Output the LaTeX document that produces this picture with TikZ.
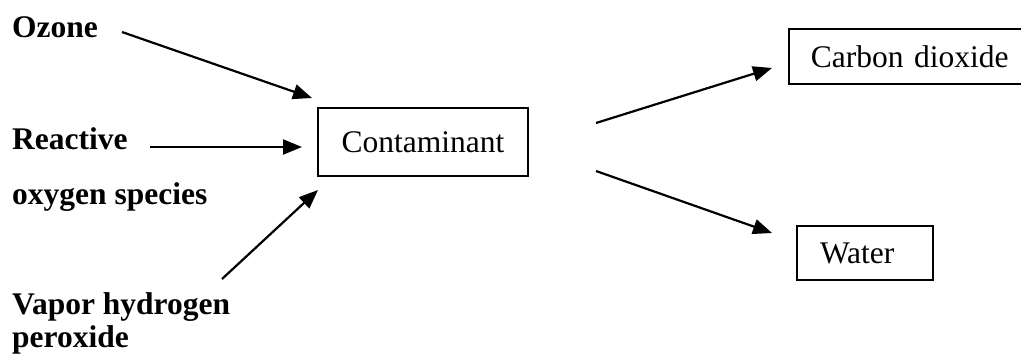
\documentclass[tikz,border=0pt]{standalone}
\usepackage{fontspec}
\setmainfont{Liberation Serif}
\usetikzlibrary{arrows.meta}
\begin{document}
\begin{tikzpicture}[x=1pt,y=-1pt,
  lbl/.style={font=\fontsize{31.5}{32.5}\selectfont\bfseries, inner sep=0pt, anchor=base west, align=left},
  box/.style={draw, line width=1.8pt, font=\fontsize{31.5}{32.5}\selectfont, inner sep=0pt},
  arr/.style={line width=2.2pt, -{Triangle[length=19pt,width=15pt]}}]
\useasboundingbox (0,0) rectangle (1021,354);
% labels (base anchor = baseline of the last line)
\node[lbl] (ozone) at (12,37) {Ozone};
\node[lbl] (ros) at (12,204) {Reactive\\[22pt]oxygen species};
\node[lbl] (vhp) at (12,347) {Vapor hydrogen\\peroxide};
% boxes
\node[box, minimum width=210pt, minimum height=68pt] (cont) at (423,142) {Contaminant};
\node[box, anchor=west, minimum width=250pt, minimum height=55pt, text width=206pt, align=left, inner xsep=22pt] (co2) at (788,56.5) {Carbon dioxide};
\node[box, line width=1.5pt, minimum width=136pt, minimum height=54pt, text width=90pt, align=left, inner xsep=23pt] (water) at (865,253) {Water};
% arrow end points
\coordinate (ozS) at (122,32);  \coordinate (ozE) at (312,98);
\coordinate (roS) at (150,147); \coordinate (roE) at (302,147);
\coordinate (vhS) at (222,279); \coordinate (vhE) at (318,190);
\coordinate (coS) at (596,123); \coordinate (coE) at (772,68);
\coordinate (waS) at (596,171); \coordinate (waE) at (772,233);
\draw[arr] (ozS) -- (ozE);
\draw[arr] (roS) -- (roE);
\draw[arr] (vhS) -- (vhE);
\draw[arr] (coS) -- (coE);
\draw[arr] (waS) -- (waE);
\end{tikzpicture}
\end{document}
